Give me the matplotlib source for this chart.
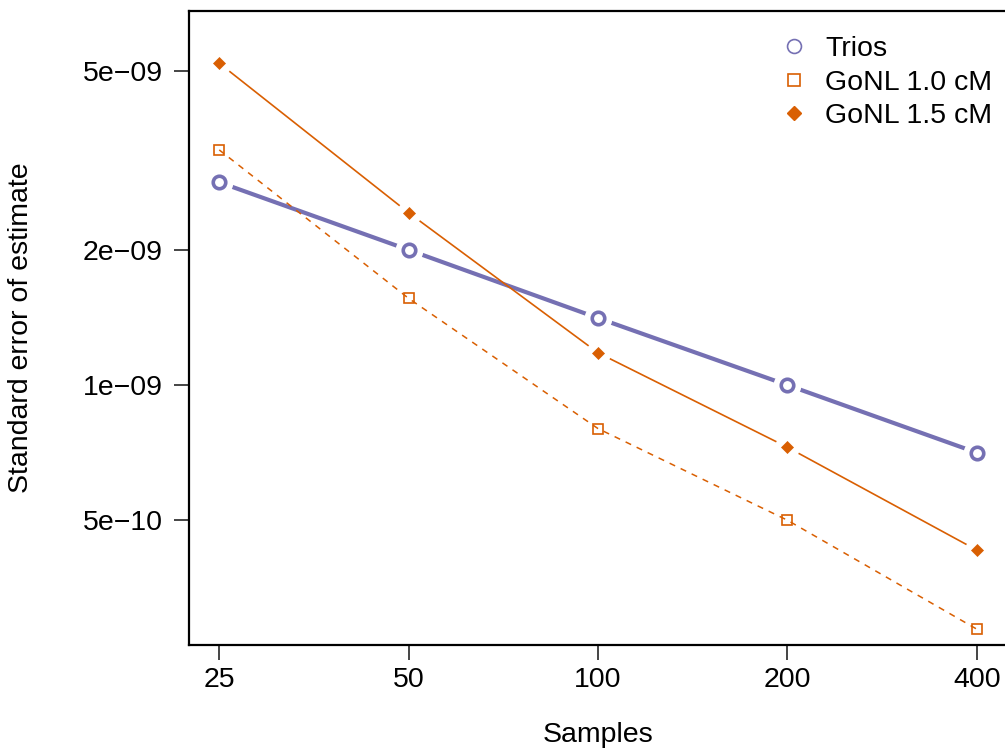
import matplotlib
matplotlib.use("Agg")
import matplotlib.pyplot as plt
from matplotlib.lines import Line2D

plt.rcParams['font.family'] = ['Liberation Sans', 'DejaVu Sans']

samples = [25, 50, 100, 200, 400]
trios = [2.83e-9, 2.00e-9, 1.41e-9, 1.00e-9, 0.707e-9]
gonl_10 = [3.34e-9, 1.56e-9, 0.80e-9, 0.50e-9, 0.286e-9]
gonl_15 = [5.21e-9, 2.42e-9, 1.18e-9, 0.727e-9, 0.429e-9]
ytick_vals = [5e-10, 1e-9, 2e-9, 5e-9]
ytick_labels = ["5e\u221210", "1e\u221209", "2e\u221209", "5e\u221209"]
series_labels = ["Trios", "GoNL 1.0 cM", "GoNL 1.5 cM"]

purple = "#7570B3"
orange = "#D95F02"

fig = plt.figure(figsize=(10.05, 7.5), dpi=100)
ax = fig.add_axes([0.188, 0.14, 0.814, 0.8453])
ax.set_xscale("log")
ax.set_yscale("log")

# Trios (type "b": line with gaps at points)
ax.plot(samples, trios, color=purple, lw=3.0, solid_capstyle="butt", zorder=2)
ax.plot(samples, trios, ls="none", marker="o", ms=20, mfc="white", mec="none", zorder=3)
ax.plot(samples, trios, ls="none", marker="o", ms=9, mfc="white", mec=purple, mew=2.6, zorder=4)

# GoNL 1.5
ax.plot(samples, gonl_15, color=orange, lw=1.2, zorder=2)
ax.plot(samples, gonl_15, ls="none", marker="o", ms=18, mfc="white", mec="none", zorder=3)
ax.plot(samples, gonl_15, ls="none", marker="D", ms=6.5, mfc=orange, mec=orange, mew=0.5, zorder=4)

# GoNL 1.0 (dashed, through points)
ax.plot(samples, gonl_10, color=orange, lw=1.1, ls=(0, (4, 4)), zorder=5)
ax.plot(samples, gonl_10, ls="none", marker="s", ms=7, mfc="none", mec=orange, mew=1.2, zorder=6)

ax.set_xlim(25 / 2 ** 0.16, 400 * 2 ** 0.16)
ax.set_ylim(0.2636e-9, 6.81e-9)

ax.xaxis.set_minor_locator(matplotlib.ticker.NullLocator())
ax.yaxis.set_minor_locator(matplotlib.ticker.NullLocator())
ax.set_xticks(samples)
ax.set_xticklabels([str(s) for s in samples])
ax.set_yticks(ytick_vals)
ax.set_yticklabels(ytick_labels)
ax.tick_params(axis="x", length=11, width=1.4, color="#444444", labelsize=20.5, pad=5)
ax.tick_params(axis="y", length=11, width=1.4, color="#444444", labelsize=20.5, pad=8)

for sp in ax.spines.values():
    sp.set_linewidth(1.6)

ax.set_xlabel("Samples", fontsize=20.5, labelpad=21)
ax.set_ylabel("Standard error of estimate", fontsize=20.5, labelpad=35)

handles = [
    Line2D([], [], ls="none", marker="o", ms=10, mfc="white", mec=purple, mew=1.2),
    Line2D([], [], ls="none", marker="s", ms=9, mfc="white", mec=orange, mew=1.2),
    Line2D([], [], ls="none", marker="D", ms=7, mfc=orange, mec=orange),
]
fig.legend(handles, series_labels, loc="upper left", bbox_to_anchor=(0.7756, 0.952),
           frameon=False, fontsize=20.5, handlelength=1.0, handletextpad=0.6,
           labelspacing=0.27, borderaxespad=0, borderpad=0)

fig.savefig("out.png", dpi=100)
